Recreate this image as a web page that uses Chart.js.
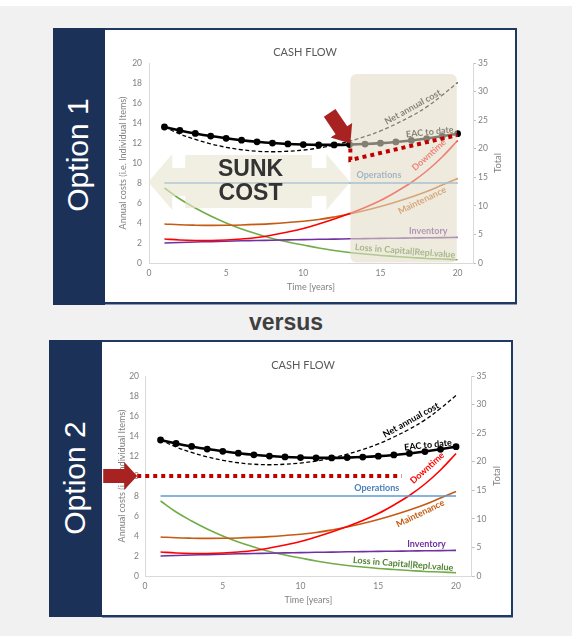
<!DOCTYPE html>
<html>
<head>
<meta charset="utf-8">
<script src="https://cdn.jsdelivr.net/npm/chart.js@4.4.1/dist/chart.umd.min.js"></script>
<style>
  html, body { margin: 0; padding: 0; }
  body { width: 572px; height: 636px; background: #f1f1f1; position: relative; overflow: hidden; }
  .topstrip { position: absolute; left: 0; top: 0; width: 572px; height: 6px; background: #fff; }
  .band { position: absolute; background: #1b3158; }
  .box { position: absolute; background: #fff; border: 2px solid #1f3864; border-left: none; box-sizing: border-box; box-shadow: 0 1px 0 #8c9bb4; }
  .opt { position: absolute; width: 140px; height: 36px; line-height: 36px; text-align: center; color: #fff;
         font: 30px 'Liberation Sans', Arial, sans-serif; white-space: nowrap; transform: rotate(-90deg); }
  .versus { position: absolute; left: 0; top: 309px; width: 572px; text-align: center; color: #404040;
            font: bold 23px 'Liberation Sans', Arial, sans-serif; }
  canvas { position: absolute; }
</style>
</head>
<body>
<div class="topstrip"></div>

<div class="band" style="left:53px;top:28px;width:52px;height:277px;"></div>
<div class="box" style="left:105px;top:28px;width:412px;height:276px;"></div>
<div class="opt" style="left:9px;top:137px;">Option 1</div>
<canvas id="option1" width="410" height="272" style="left:105px;top:30px;"></canvas>

<div class="versus">versus</div>

<div class="band" style="left:49px;top:340px;width:53px;height:277px;"></div>
<div class="box" style="left:102px;top:340px;width:411px;height:277px;"></div>
<div class="opt" style="left:5.5px;top:460px;">Option 2</div>
<canvas id="option2" width="409" height="273" style="left:102px;top:342px;"></canvas>

<script>
// ---- Cash flow per year of service ----
const years = [1, 2, 3, 4, 5, 6, 7, 8, 9, 10, 11, 12, 13, 14, 15, 16, 17, 18, 19, 20];

// Individual cost items (left axis)
const operations    = [8, 8, 8, 8, 8, 8, 8, 8, 8, 8, 8, 8, 8, 8, 8, 8, 8, 8, 8, 8];
const maintenance   = [3.9, 3.82, 3.78, 3.76, 3.77, 3.8, 3.86, 3.94, 4.05, 4.18, 4.35, 4.6, 4.9, 5.25, 5.65, 6.1, 6.6, 7.15, 7.8, 8.45];
const downtime      = [2.4, 2.3, 2.25, 2.25, 2.3, 2.4, 2.55, 2.8, 3.1, 3.45, 3.9, 4.4, 4.95, 5.55, 6.25, 7.1, 8.05, 9.2, 10.6, 12.25];
const inventory     = [2.0, 2.05, 2.1, 2.14, 2.18, 2.22, 2.25, 2.28, 2.31, 2.34, 2.37, 2.39, 2.42, 2.44, 2.46, 2.48, 2.5, 2.52, 2.54, 2.56];
const lossInCapital = [7.5, 6.4, 5.5, 4.7, 4.0, 3.4, 2.9, 2.45, 2.1, 1.8, 1.5, 1.25, 1.05, 0.9, 0.75, 0.65, 0.55, 0.45, 0.4, 0.33];

// Totals (right axis)
const netAnnualCost = [23.8, 22.57, 21.63, 20.85, 20.25, 19.82, 19.56, 19.47, 19.56, 19.77, 20.12, 20.64, 21.32, 22.14, 23.11, 24.33, 25.7, 27.32, 29.34, 31.59];
const eacToDate     = [23.8, 23.19, 22.67, 22.21, 21.82, 21.49, 21.21, 20.99, 20.83, 20.73, 20.67, 20.67, 20.72, 20.82, 20.97, 21.18, 21.45, 21.78, 22.17, 22.64];

// Axis ticks
const xTicks     = [0, 5, 10, 15, 20];
const leftTicks  = [0, 2, 4, 6, 8, 10, 12, 14, 16, 18, 20];
const rightTicks = [0, 5, 10, 15, 20, 25, 30, 35];

const seriesNames = ['EAC to date', 'Net annual cost', 'Operations', 'Downtime', 'Maintenance', 'Inventory', 'Loss in Capital|Repl.value'];

// Replacement thresholds (left-axis units)
const replacementPath1 = [[13.05, 11.45], [13.05, 10.3], [20, 12.8]];
const replacementPath2 = [[-0.5, 10], [16.5, 10]];

const FONT = "Lato, 'Open Sans', sans-serif";
const TICK_COLOR = '#808080';
const AXIS_COLOR = '#d9d9d9';

const colors = {
  eac: '#000000', net: '#000000', ops: '#5b9bd5', down: '#ff0000',
  maint: '#c55a11', inv: '#7030a0', loss: '#70ad47'
};

// Where each series name is written, in data units of x / left axis
const seriesLabels = [
  { name: 'Net annual cost', x: 17.1, y: 15.6, rot: -29, color: '#000000' },
  { name: 'EAC to date', x: 18.2, y: 13.1, rot: -6, color: '#000000' },
  { name: 'Operations', x: 14.9, y: 8.75, rot: 0, color: '#4a7ebb' },
  { name: 'Downtime', x: 18.15, y: 10.8, rot: -42, color: '#ff0000' },
  { name: 'Maintenance', x: 17.7, y: 6.25, rot: -26, color: '#c55a11' },
  { name: 'Inventory', x: 18.1, y: 3.15, rot: 0, color: '#7030a0' },
  { name: 'Loss in Capital|Repl.value', x: 16.6, y: 1.2, rot: 4.5, color: '#548235' }
];

function pts(values) {
  return years.map((yr, i) => ({ x: yr, y: values[i] }));
}

function blockArrow(ctx, tipX, tipY, angle, len, headLen, bodyHalf, headHalf) {
  ctx.save();
  ctx.translate(tipX, tipY);
  ctx.rotate(angle);
  ctx.beginPath();
  ctx.moveTo(0, 0);
  ctx.lineTo(-headLen, -headHalf);
  ctx.lineTo(-headLen, -bodyHalf);
  ctx.lineTo(-len, -bodyHalf);
  ctx.lineTo(-len, bodyHalf);
  ctx.lineTo(-headLen, bodyHalf);
  ctx.lineTo(-headLen, headHalf);
  ctx.closePath();
  ctx.fill();
  ctx.restore();
}

const decorPlugin = {
  id: 'decor',
  afterDatasetsDraw(chart, args, opts) {
    const { ctx, chartArea } = chart;
    const sx = chart.scales.x, sy = chart.scales.y;
    const px = v => sx.getPixelForValue(v);
    const py = v => sy.getPixelForValue(v);
    ctx.save();

    // Chart title
    ctx.fillStyle = '#595959';
    ctx.font = `11px ${FONT}`;
    ctx.textAlign = 'center';
    ctx.textBaseline = 'middle';
    ctx.fillText('CASH FLOW', opts.titleX, opts.titleY);

    // Secondary axis title
    ctx.save();
    ctx.translate(opts.totalX, (chartArea.top + chartArea.bottom) / 2);
    ctx.rotate(-Math.PI / 2);
    ctx.font = `9.5px ${FONT}`;
    ctx.fillStyle = TICK_COLOR;
    ctx.fillText('Total', 0, 0);
    ctx.restore();

    // Series names next to their lines
    ctx.font = `bold 9px ${FONT}`;
    seriesLabels.forEach(l => {
      ctx.save();
      ctx.translate(px(l.x), py(l.y));
      ctx.rotate(l.rot * Math.PI / 180);
      ctx.fillStyle = l.color;
      ctx.fillText(l.name, 0, 0);
      ctx.restore();
    });

    // Remaining-life zone, veiling what lies beneath it
    if (opts.future) {
      const f = opts.future;
      const x0 = px(f.x0), x1 = px(f.x1), y0 = py(f.y1), y1 = py(f.y0);
      ctx.fillStyle = 'rgba(226,221,198,0.58)';
      ctx.beginPath();
      ctx.roundRect(x0, y0, x1 - x0, y1 - y0, 6);
      ctx.fill();
    }

    // Sunk cost double arrow with its caption
    if (opts.sunk) {
      const s = opts.sunk;
      const lx = px(s.x0), rx = px(s.x1), cy = py(s.y);
      const bx0 = px(s.boxX0), bx1 = px(s.boxX1), by0 = py(s.boxY1), by1 = py(s.boxY0);
      ctx.fillStyle = 'rgba(232,228,208,0.62)';
      ctx.beginPath();
      ctx.moveTo(lx, cy);
      ctx.lineTo(lx + s.head, cy - s.headHalf);
      ctx.lineTo(lx + s.head, cy - s.shaftHalf);
      ctx.lineTo(bx0, cy - s.shaftHalf);
      ctx.lineTo(bx0, by0);
      ctx.lineTo(bx1, by0);
      ctx.lineTo(bx1, cy - s.shaftHalf);
      ctx.lineTo(rx - s.head, cy - s.shaftHalf);
      ctx.lineTo(rx - s.head, cy - s.headHalf);
      ctx.lineTo(rx, cy);
      ctx.lineTo(rx - s.head, cy + s.headHalf);
      ctx.lineTo(rx - s.head, cy + s.shaftHalf);
      ctx.lineTo(bx1, cy + s.shaftHalf);
      ctx.lineTo(bx1, by1);
      ctx.lineTo(bx0, by1);
      ctx.lineTo(bx0, cy + s.shaftHalf);
      ctx.lineTo(lx + s.head, cy + s.shaftHalf);
      ctx.lineTo(lx + s.head, cy + s.headHalf);
      ctx.closePath();
      ctx.fill();
      ctx.fillStyle = '#333333';
      ctx.font = "bold 23px 'Liberation Sans', Arial, sans-serif";
      ctx.textAlign = 'center';
      ctx.fillText('SUNK', (bx0 + bx1) / 2 + 2, by0 + 15);
      ctx.fillText('COST', (bx0 + bx1) / 2 + 2, by1 - 14);
    }

    // Replacement threshold, dotted
    if (opts.dotted) {
      ctx.strokeStyle = '#c00000';
      ctx.lineWidth = 4;
      ctx.setLineDash([4, 4]);
      ctx.beginPath();
      opts.dotted.forEach((p, i) => {
        const X = px(p[0]), Y = py(p[1]);
        if (i === 0) ctx.moveTo(X, Y); else ctx.lineTo(X, Y);
      });
      ctx.stroke();
      ctx.setLineDash([]);
    }

    // Pointer arrow
    if (opts.arrow) {
      const a = opts.arrow;
      ctx.fillStyle = '#a82222';
      blockArrow(ctx, px(a.x), py(a.y), a.angle * Math.PI / 180, a.len, a.headLen, a.bodyHalf, a.headHalf);
    }

    ctx.restore();
  }
};

function buildChart(id, g, decor) {
  const tickFont = { family: FONT, size: 8.5 };
  return new Chart(document.getElementById(id), {
    type: 'line',
    data: {
      datasets: [
        { label: seriesNames[0], data: pts(eacToDate), yAxisID: 'y2', borderColor: colors.eac, borderWidth: 2.6,
          pointRadius: 3.4, pointBackgroundColor: colors.eac, pointBorderWidth: 0, tension: 0.35 },
        { label: seriesNames[1], data: pts(netAnnualCost), yAxisID: 'y2', borderColor: colors.net, borderWidth: 1.3,
          borderDash: [4, 2.5], pointRadius: 0, tension: 0.4 },
        { label: seriesNames[2], data: pts(operations), yAxisID: 'y', borderColor: colors.ops, borderWidth: 1.6, pointRadius: 0 },
        { label: seriesNames[3], data: pts(downtime), yAxisID: 'y', borderColor: colors.down, borderWidth: 1.6, pointRadius: 0, tension: 0.4 },
        { label: seriesNames[4], data: pts(maintenance), yAxisID: 'y', borderColor: colors.maint, borderWidth: 1.6, pointRadius: 0, tension: 0.4 },
        { label: seriesNames[5], data: pts(inventory), yAxisID: 'y', borderColor: colors.inv, borderWidth: 1.6, pointRadius: 0, tension: 0.4 },
        { label: seriesNames[6], data: pts(lossInCapital), yAxisID: 'y', borderColor: colors.loss, borderWidth: 1.6, pointRadius: 0, tension: 0.4 }
      ]
    },
    options: {
      responsive: false,
      animation: false,
      events: [],
      layout: { padding: { top: g.top, left: 0, right: 0, bottom: 0 } },
      plugins: {
        legend: { display: false },
        tooltip: { enabled: false },
        title: { display: false },
        decor: Object.assign({ titleX: g.titleX, titleY: g.titleY, totalX: g.totalX }, decor)
      },
      scales: {
        x: {
          type: 'linear', min: 0, max: 21,
          afterBuildTicks: s => { s.ticks = xTicks.map(v => ({ value: v })); },
          afterFit: s => { s.height = g.bottomH; },
          ticks: { color: TICK_COLOR, font: tickFont, padding: 5, maxRotation: 0 },
          grid: { display: true, drawOnChartArea: false, drawTicks: false },
          border: { display: true, color: AXIS_COLOR, width: 1 },
          title: { display: true, text: 'Time [years]', color: TICK_COLOR, font: { family: FONT, size: 9 }, padding: { top: 0, bottom: 9.6 } }
        },
        y: {
          type: 'linear', position: 'left', min: 0, max: 20,
          afterBuildTicks: s => { s.ticks = leftTicks.map(v => ({ value: v })); },
          afterFit: s => { s.width = g.leftW; },
          ticks: { color: TICK_COLOR, font: tickFont, padding: g.leftPad },
          grid: { display: true, drawOnChartArea: false, drawTicks: false },
          border: { display: true, color: AXIS_COLOR, width: 1 },
          title: { display: true, text: 'Annual costs (i.e. Individual Items)', color: TICK_COLOR, font: { family: FONT, size: 9 }, padding: { top: g.leftTitlePad, bottom: 0 } }
        },
        y2: {
          type: 'linear', position: 'right', min: 0, max: 35,
          afterBuildTicks: s => { s.ticks = rightTicks.map(v => ({ value: v })); },
          afterFit: s => { s.width = g.rightW; },
          ticks: { color: TICK_COLOR, font: tickFont, padding: 2 },
          grid: { display: true, drawOnChartArea: false, drawTicks: true, tickLength: 3, color: '#bfbfbf' },
          border: { display: true, color: AXIS_COLOR, width: 1 }
        }
      }
    },
    plugins: [decorPlugin]
  });
}

buildChart('option1',
  { top: 33, leftW: 44, rightW: 42, bottomH: 39, leftPad: 7, leftTitlePad: 12.6, titleX: 200, titleY: 22, totalX: 393 },
  {
    future: { x0: 13.05, x1: 19.95, y0: 0.05, y1: 18.9 },
    sunk: { x0: -0.05, x1: 13.05, y: 8.1, head: 24, headHalf: 28, shaftHalf: 14,
            boxX0: 2.35, boxX1: 10.55, boxY0: 5.5, boxY1: 10.8 },
    dotted: replacementPath1,
    arrow: { x: 13.05, y: 11.95, angle: 56, len: 37, headLen: 16, bodyHalf: 7, headHalf: 13 }
  });

buildChart('option2',
  { top: 34, leftW: 43, rightW: 39.4, bottomH: 39, leftPad: 6, leftTitlePad: 14.6, titleX: 201, titleY: 23, totalX: 395 },
  {
    dotted: replacementPath2,
    arrow: { x: -0.5, y: 10, angle: 0, len: 34, headLen: 13, bodyHalf: 7, headHalf: 14 }
  });
</script>
</body>
</html>
